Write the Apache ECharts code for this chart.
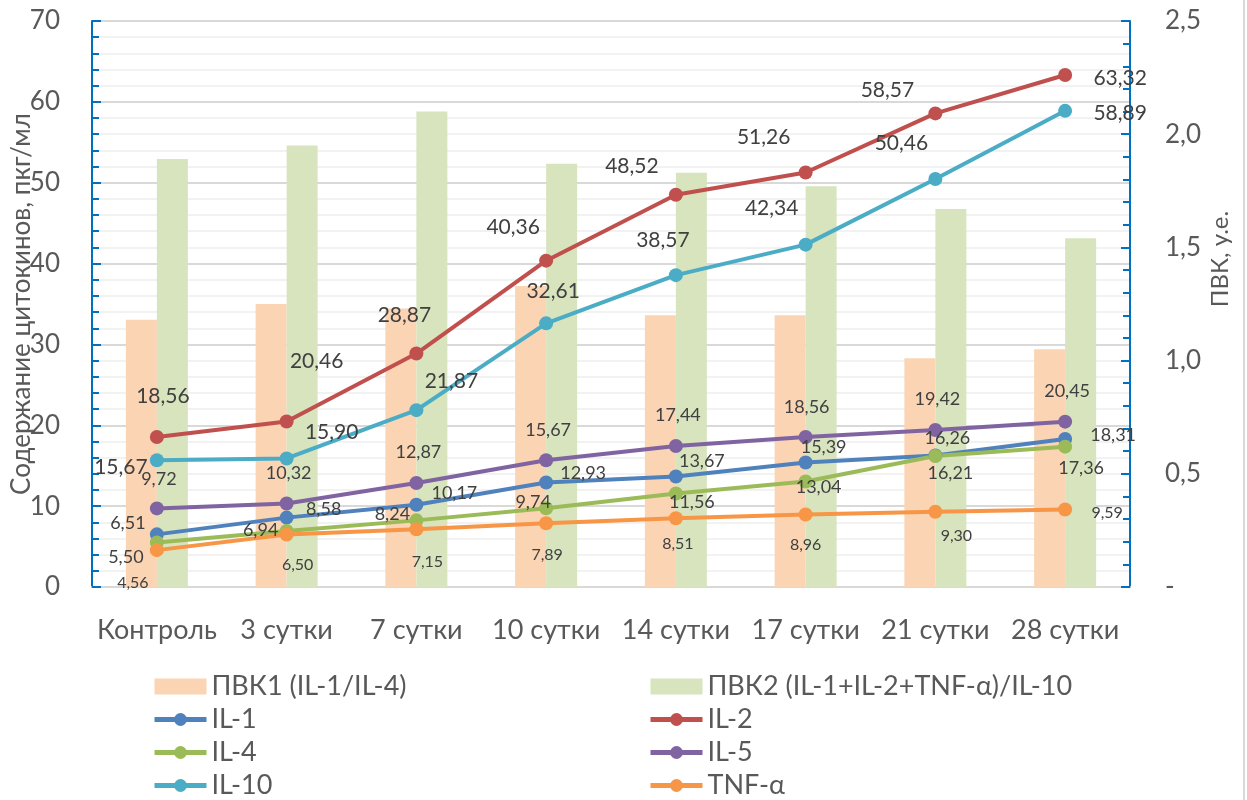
<!DOCTYPE html>
<html>
<head>
<meta charset="utf-8">
<script src="https://cdn.jsdelivr.net/npm/echarts@6/dist/echarts.min.js"></script>
<style>
  html, body { margin: 0; padding: 0; background: #fff; }
  #chart { width: 1247px; height: 800px; }
</style>
</head>
<body>
<div id="chart"></div>
<script>
// Categories (days of observation)
const categories = ['Контроль', '3 сутки', '7 сутки', '10 сутки', '14 сутки', '17 сутки', '21 сутки', '28 сутки'];

// Cytokine ratios (right axis, у.е.)
const pvk1 = [1.18, 1.25, 1.23, 1.33, 1.20, 1.20, 1.01, 1.05];
const pvk2 = [1.89, 1.95, 2.10, 1.87, 1.83, 1.77, 1.67, 1.54];

// Cytokine concentrations (left axis, пкг/мл)
const il1 = [6.51, 8.58, 10.17, 12.93, 13.67, 15.39, 16.26, 18.31];
const il2 = [18.56, 20.46, 28.87, 40.36, 48.52, 51.26, 58.57, 63.32];
const il4 = [5.50, 6.94, 8.24, 9.74, 11.56, 13.04, 16.21, 17.36];
const il5 = [9.72, 10.32, 12.87, 15.67, 17.44, 18.56, 19.42, 20.45];
const il10 = [15.67, 15.90, 21.87, 32.61, 38.57, 42.34, 50.46, 58.89];
const tnf = [4.56, 6.50, 7.15, 7.89, 8.51, 8.96, 9.30, 9.59];

// Label placement around each marker [dx, dy], px
const labelShift = {
  il1: [[-29, -11], [37, -8], [38, -12], [37, -9], [26, -15], [18, -15], [12, -17], [48, -4]],
  il2: [[6, -41], [30, -60], [-12, -38], [-33, -33], [-44, -28], [-42, -35], [-48, -23], [55, 3]],
  il4: [[-31, 15], [-26, -1], [-24, -6], [-13, -6], [16, 9], [13, 6], [15, 17], [16, 22]],
  il5: [[2, -29], [2, -30], [2, -31], [2, -30], [2, -31], [1, -30], [2, -31], [2, -30]],
  il10: [[-36, 7], [45, -26], [35, -29], [7, -32], [-13, -35], [-34, -36], [-34, -36], [55, 2]],
  tnf: [[-24, 33], [11, 30], [11, 33], [1, 32], [2, 26], [0, 30], [21, 24], [42, 3]]
};

const FONT = 'Lato, "Noto Sans", sans-serif';
const TXT = '#404040';
const AXIS_TXT = '#595959';
const BLUE_AXIS = '#0070C0';

const fmt = v => v.toFixed(2).replace('.', ',');

function lineSeries(name, values, color, shifts, fontSize) {
  return {
    name: name,
    type: 'line',
    yAxisIndex: 0,
    data: values.map((v, i) => ({ value: v, label: { offset: shifts[i] } })),
    symbol: 'circle',
    symbolSize: 14,
    itemStyle: { color: color },
    lineStyle: { color: color, width: 4 },
    z: 5,
    label: {
      show: true,
      position: 'inside',
      align: 'center',
      verticalAlign: 'middle',
      color: TXT,
      fontFamily: FONT,
      fontSize: fontSize,
      formatter: p => fmt(p.value)
    }
  };
}

const legendCommon = {
  orient: 'vertical',
  top: 673,
  height: 200,
  padding: 0,
  itemWidth: 52,
  itemHeight: 16,
  itemGap: 6,
  lineStyle: { width: 5 },
  textStyle: { fontSize: 27, color: AXIS_TXT, fontFamily: FONT, lineHeight: 24 }
};

const chart = echarts.init(document.getElementById('chart'), null, { renderer: 'canvas' });

chart.setOption({
  backgroundColor: '#ffffff',
  animation: false,
  textStyle: { fontFamily: FONT },
  grid: { left: 92, right: 117, top: 21, bottom: 213, containLabel: false, outerBoundsMode: 'none' },
  legend: [
    Object.assign({}, legendCommon, {
      left: 152,
      data: [{ name: 'ПВК1 (IL-1/IL-4)', icon: 'rect' }, 'IL-1', 'IL-4', 'IL-10']
    }),
    Object.assign({}, legendCommon, {
      left: 648,
      data: [{ name: 'ПВК2 (IL-1+IL-2+TNF-α)/IL-10', icon: 'rect' }, 'IL-2', 'IL-5', 'TNF-α']
    })
  ],
  xAxis: {
    type: 'category',
    data: categories,
    boundaryGap: true,
    axisLine: { show: true, lineStyle: { color: '#D9D9D9', width: 2 } },
    axisTick: { show: false },
    axisLabel: { color: AXIS_TXT, fontSize: 27, fontFamily: FONT, margin: 30, interval: 0 }
  },
  yAxis: [
    {
      type: 'value',
      min: 0, max: 70, interval: 10,
      position: 'left',
      name: 'Содержание цитокинов, пкг/мл',
      nameLocation: 'middle',
      nameGap: 57,
      nameMoveOverlap: false,
      nameTextStyle: { color: AXIS_TXT, fontSize: 26, fontFamily: FONT },
      axisLine: { show: true, lineStyle: { color: BLUE_AXIS, width: 2 } },
      axisTick: { show: true, inside: true, length: 9, lineStyle: { color: BLUE_AXIS, width: 2 } },
      minorTick: { show: true, splitNumber: 5, length: 7, lineStyle: { color: BLUE_AXIS, width: 2 } },
      splitLine: { show: true, lineStyle: { color: '#D9D9D9', width: 2 } },
      minorSplitLine: { show: true, lineStyle: { color: '#F2F2F2', width: 2 } },
      axisLabel: { color: AXIS_TXT, fontSize: 26, fontFamily: FONT, margin: 32 }
    },
    {
      type: 'value',
      min: 0, max: 2.5, interval: 0.5,
      position: 'right',
      name: 'ПВК, у.е.',
      nameLocation: 'middle',
      nameRotate: 90,
      nameGap: 78,
      nameMoveOverlap: false,
      nameTextStyle: { color: AXIS_TXT, fontSize: 24, fontFamily: FONT, padding: [0, 0, 0, 90] },
      axisLine: { show: true, lineStyle: { color: BLUE_AXIS, width: 2 } },
      axisTick: { show: true, inside: true, length: 9, lineStyle: { color: BLUE_AXIS, width: 2 } },
      minorTick: { show: true, splitNumber: 5, length: 7, lineStyle: { color: BLUE_AXIS, width: 2 } },
      splitLine: { show: false },
      axisLabel: {
        color: AXIS_TXT, fontSize: 26, fontFamily: FONT, margin: 35,
        formatter: v => (v === 0 ? '-' : v.toFixed(1).replace('.', ','))
      }
    }
  ],
  series: [
    {
      name: 'ПВК1 (IL-1/IL-4)', type: 'bar', yAxisIndex: 1, data: pvk1,
      barWidth: 31, barGap: '0%', itemStyle: { color: '#FBD4B4' }, z: 2
    },
    {
      name: 'ПВК2 (IL-1+IL-2+TNF-α)/IL-10', type: 'bar', yAxisIndex: 1, data: pvk2,
      barWidth: 31, barGap: '0%', itemStyle: { color: '#D7E4BD' }, z: 2
    },
    lineSeries('IL-1', il1, '#4F81BD', labelShift.il1, 18),
    lineSeries('IL-2', il2, '#C0504D', labelShift.il2, 21),
    lineSeries('IL-4', il4, '#9BBB59', labelShift.il4, 18),
    lineSeries('IL-5', il5, '#8064A2', labelShift.il5, 18),
    lineSeries('IL-10', il10, '#4BACC6', labelShift.il10, 21),
    lineSeries('TNF-α', tnf, '#F79646', labelShift.tnf, 16)
  ],
  graphic: [
    { type: 'line', shape: { x1: 1244, y1: 0, x2: 1244, y2: 800 }, style: { stroke: '#D9D9D9', lineWidth: 2 } }
  ]
});
</script>
</body>
</html>
